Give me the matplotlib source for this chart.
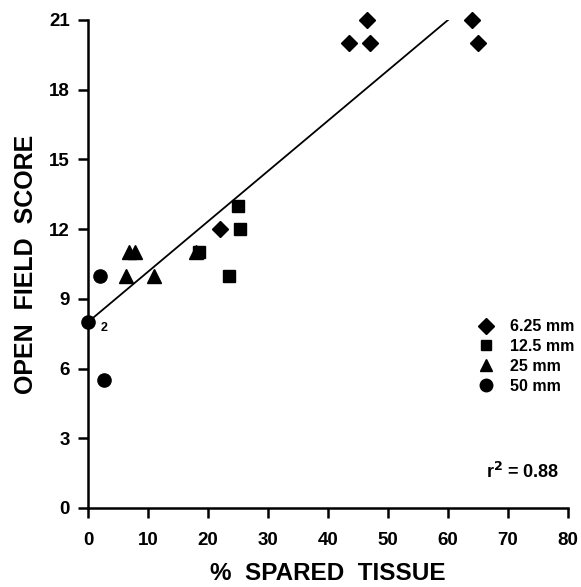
import matplotlib
matplotlib.use("Agg")
import matplotlib.pyplot as plt
from matplotlib.lines import Line2D

plt.rcParams['font.family'] = ['Liberation Sans', 'DejaVu Sans']
plt.rcParams['font.weight'] = 'bold'

# data
x_625 = [43.5, 46.5, 47.0, 64.0, 65.0, 22.0]
y_625 = [20, 21, 20, 21, 20, 12]
x_125 = [18.5, 23.5, 25.0, 25.3]
y_125 = [11, 10, 13, 12]
x_25 = [6.3, 6.8, 7.8, 11.0, 18.0]
y_25 = [10, 11, 11, 10, 11]
x_50 = [2.0, 0.0, 2.7]
y_50 = [10, 8, 5.5]
labels = ['6.25 mm', '12.5 mm', '25 mm', '50 mm']
fit_intercept = 8.0
fit_slope = 13.0 / 60.0
fit_x = [0, 60]
xticks = [0, 10, 20, 30, 40, 50, 60, 70, 80]
yticks = [0, 3, 6, 9, 12, 15, 18, 21]

fig = plt.figure(figsize=(5.81, 5.87), dpi=100)
ax = fig.add_axes([88/581, 1 - 508/587, 480/581, 488/587])

ax.plot(x_625, y_625, 'D', color='black', ms=8.5, clip_on=False, zorder=3)
ax.plot(x_125, y_125, 's', color='black', ms=8.5, clip_on=False, zorder=3)
ax.plot(x_25, y_25, '^', color='black', ms=9.5, clip_on=False, zorder=3)
ax.plot(x_50, y_50, 'o', color='black', ms=9.5, clip_on=False, zorder=3)

fy = [fit_intercept + fit_slope * v for v in fit_x]
ax.plot(fit_x, fy, color='black', lw=1.3, zorder=2)

ax.text(2.1, 7.75, '2', fontsize=9, fontweight='bold', ha='left', va='center')

ax.set_xlim(0, 80)
ax.set_ylim(0, 21)
ax.set_xticks(xticks)
ax.set_yticks(yticks)
for s in ['top', 'right']:
    ax.spines[s].set_visible(False)
for s in ['left', 'bottom']:
    ax.spines[s].set_linewidth(1.8)
ax.tick_params(length=7, width=1.8, labelsize=13.5)
ax.tick_params(axis='x', pad=10)
ax.tick_params(axis='y', pad=6)
for lab in ax.get_xticklabels() + ax.get_yticklabels():
    lab.set_fontweight('bold')

ax.set_xlabel('%  SPARED  TISSUE', fontsize=17.5, fontweight='bold', labelpad=10)
ax.set_ylabel('OPEN  FIELD  SCORE', fontsize=18, fontweight='bold', labelpad=8)

handles = [
    Line2D([], [], marker='D', ls='none', color='black', ms=8),
    Line2D([], [], marker='s', ls='none', color='black', ms=7),
    Line2D([], [], marker='^', ls='none', color='black', ms=8.5),
    Line2D([], [], marker='o', ls='none', color='black', ms=9),
]
leg = ax.legend(handles, labels, loc='upper left', bbox_to_anchor=(0.8, 0.40),
                frameon=False, fontsize=11.5, handletextpad=1.0, labelspacing=0.3,
                handlelength=1.0, borderaxespad=0)
for t in leg.get_texts():
    t.set_fontweight('bold')

ax.text(0.983, 0.073, r'r$^\mathbf{2}$ = 0.88', transform=ax.transAxes, fontsize=13,
        fontweight='bold', ha='right', va='center')

fig.savefig('out.png', dpi=100)
